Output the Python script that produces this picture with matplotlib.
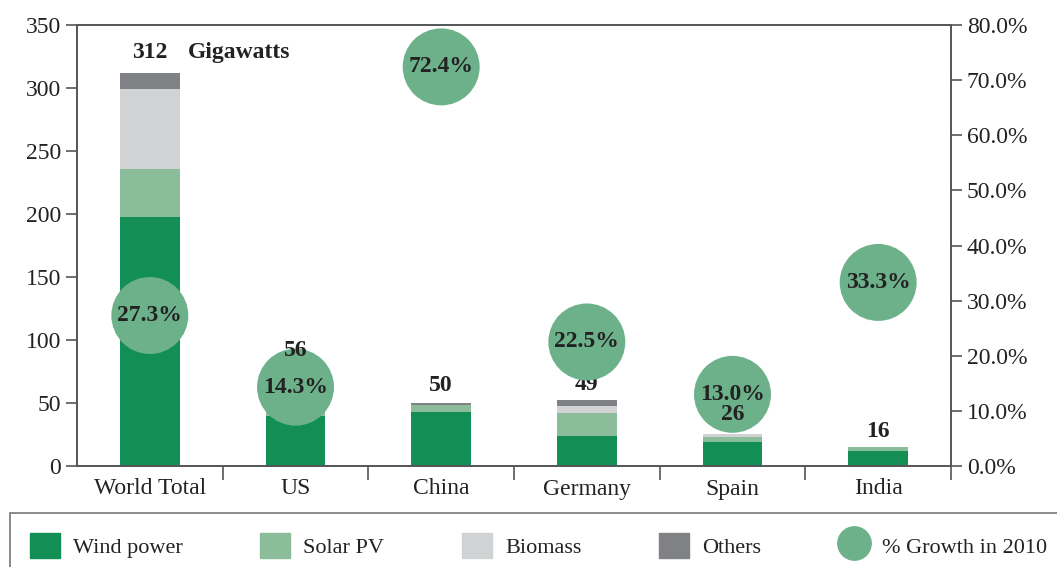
import numpy as np
import matplotlib.pyplot as plt
from matplotlib.patches import Patch
from matplotlib.lines import Line2D

plt.rcParams['font.family'] = ['Liberation Serif', 'DejaVu Serif']

# data (gigawatts)
countries = ['World Total', 'US', 'China', 'Germany', 'Spain', 'India']
wind = [198, 40, 43, 24, 19, 12]
solar = [38, 2.5, 5.5, 18, 4, 3]
biomass = [63, 10.5, 0, 6, 2.5, 0]
others = [13, 3, 1.5, 4, 0, 0]
totals = ['312', '56', '50', '49', '26', '16']
growth = [27.3, 14.3, 72.4, 22.5, 13.0, 33.3]

# label spacing above the stack and draw order (Germany label sits under its circle)
label_pad = [16, 36, 13.5, 12.3, 15, 12]
label_z = [6, 6, 6, 3, 6, 6]

c_wind = '#138f55'
c_solar = '#8bbd9a'
c_bio = '#d1d2d4'
c_oth = '#808185'
c_circ = '#6db18b'
spine_c = '#555555'
txt_c = '#222222'

fig = plt.figure(figsize=(10.57, 5.67), dpi=100)
ax = fig.add_axes([77/1057, 1-466/567, (951-77)/1057, (466-25)/567])
ax2 = ax.twinx()

x = np.arange(len(countries))
w = 0.41
b1 = np.array(wind, dtype=float)
b2 = b1 + np.array(solar)
b3 = b2 + np.array(biomass)
ax.bar(x, wind, w, color=c_wind, zorder=2)
ax.bar(x, solar, w, bottom=b1, color=c_solar, zorder=2)
ax.bar(x, biomass, w, bottom=b2, color=c_bio, zorder=2)
ax.bar(x, others, w, bottom=b3, color=c_oth, zorder=2)
tops = b3 + np.array(others)

ax.set_xlim(-0.5, len(countries) - 0.5)
ax.set_ylim(0, 350)
ax.set_yticks(np.arange(0, 351, 50))
ax2.set_ylim(0, 80)
ax2.set_yticks(np.arange(0, 81, 10))
ax2.set_yticklabels([f'{v:.1f}%' for v in np.arange(0, 81, 10)])

# category ticks sit on the boundaries between groups
ax.set_xticks(x)
ax.set_xticklabels(countries, fontsize=17)
ax.set_xticks(np.arange(0.5, len(countries)), minor=True)
ax.tick_params(axis='x', which='major', length=0, pad=9, colors=txt_c)
ax.tick_params(axis='x', which='minor', length=10, width=1.2, color=spine_c)
ax.tick_params(axis='y', labelsize=17, length=8, width=1.2, color=spine_c, labelcolor=txt_c)
ax2.tick_params(axis='y', labelsize=17, length=8, width=1.2, color=spine_c, labelcolor=txt_c)
for a in (ax, ax2):
    for s in a.spines.values():
        s.set_color(spine_c)
        s.set_linewidth(1.2)

# labels go on ax2 so they can sit above or below the circles
for i in range(len(countries)):
    ax2.text(x[i], (tops[i] + label_pad[i]) * 80 / 350, totals[i], ha='center', va='center',
             fontsize=17, fontweight='bold', color=txt_c, zorder=label_z[i])
ax2.text(x[0] + 0.26, (tops[0] + label_pad[0]) * 80 / 350, 'Gigawatts', ha='left', va='center',
         fontsize=17, fontweight='bold', color=txt_c, zorder=6)

ax2.scatter(x, growth, s=3070, color=c_circ, edgecolors='none', zorder=4)
for i in range(len(countries)):
    ax2.text(x[i], growth[i], f'{growth[i]:.1f}%', ha='center', va='center',
             fontsize=17, fontweight='bold', color=txt_c, zorder=5)

handles = [Patch(color=c_wind, label='Wind power'),
           Patch(color=c_solar, label='Solar PV'),
           Patch(color=c_bio, label='Biomass'),
           Patch(color=c_oth, label='Others'),
           Line2D([], [], marker='o', linestyle='none', markersize=24, color=c_circ,
                  label='% Growth in 2010')]
leg = fig.legend(handles=handles, loc='upper left', bbox_to_anchor=(10/1057, 1-513/567),
                 ncol=5, frameon=True, fancybox=False, fontsize=16, borderaxespad=0,
                 handlelength=1.35, handleheight=1.35, handletextpad=0.58, columnspacing=3.5,
                 borderpad=0.9, labelcolor=txt_c)
leg.get_frame().set_edgecolor(spine_c)
leg.get_frame().set_linewidth(1.2)

fig.savefig('out.png', dpi=100)
